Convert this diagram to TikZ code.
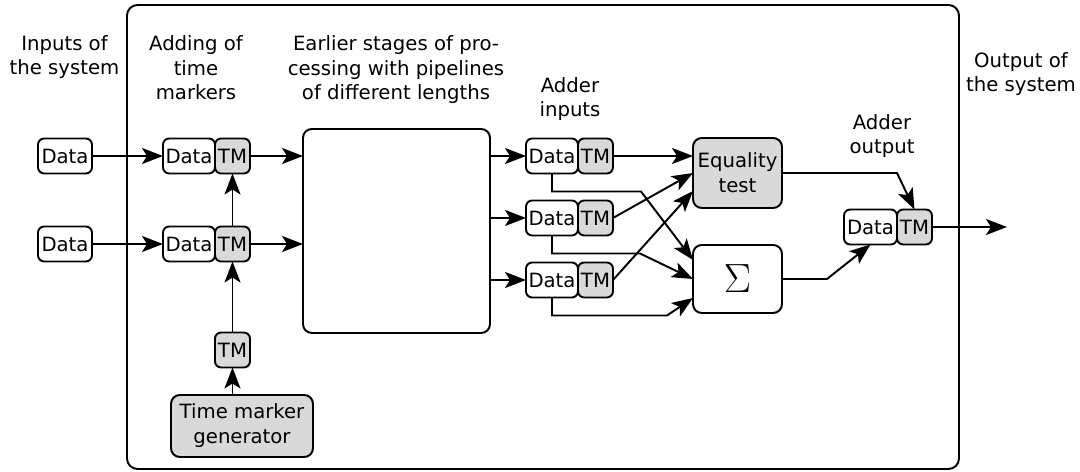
\documentclass[tikz,border=0pt]{standalone}
\usepackage[no-math]{fontspec}
\setmainfont{DejaVu Sans}
\usepackage{graphicx}
\usetikzlibrary{arrows.meta,calc}
\begin{document}
\begin{tikzpicture}[x=0.02cm,y=-0.02cm,
  every node/.style={font=\fontsize{11.2}{14.2}\selectfont},
  ln/.style={line width=1.1pt},
  box/.style={draw,line width=1.1pt,rounded corners=3.5pt,inner sep=0pt,outer sep=0pt,minimum height=0.70cm,align=center},
  dbox/.style={box,fill=white,minimum width=1.04cm},
  tbox/.style={box,fill=gray!30,minimum width=0.70cm},
  lbl/.style={align=center,anchor=base,inner sep=0pt},
  arr/.style={line width=1.1pt,-{Stealth[length=0.42cm,width=0.32cm,inset=0.1cm]}}]
\useasboundingbox (0,0) rectangle (1080,472);
% frame
\draw[ln,rounded corners=6pt] (127,5) rectangle (959,469);
% labels (anchored at the baseline of their last line)
\node[lbl] (l1) at (64.5,75) {Inputs of\\the system};
\node[lbl] (l2) at (196,100) {Adding of\\time\\markers};
\node[lbl] (l3) at (396,100) {Earlier stages of pro-\\cessing with pipelines\\of different lengths};
\node[lbl] (l4) at (570,117) {Adder\\inputs};
\node[lbl] (l5) at (882,154) {Adder\\output};
\node[lbl] (l6) at (1021,92) {Output of\\the system};
% inputs
\node[dbox,minimum width=1.08cm] (in1) at (65,156) {Data};
\node[dbox,minimum width=1.08cm] (in2) at (65,244) {Data};
% time marker pairs
\node[dbox] (d1) at (189,156) {Data};
\node[tbox,anchor=west] (t1) at (d1.east) {TM};
\node[dbox] (d2) at (189,244) {Data};
\node[tbox,anchor=west] (t2) at (d2.east) {TM};
\node[tbox] (tm0) at (t2 |- 0,350) {TM};
\node[box,fill=gray!30,minimum width=2.84cm,minimum height=1.24cm,rounded corners=5pt] (gen) at (242,426) {Time marker\\generator};
% processing
\node[box,fill=white,minimum width=3.74cm,minimum height=4.08cm,rounded corners=5pt] (big) at (396.5,231) {};
% adder inputs
\node[dbox] (a1) at (552,156) {Data};
\node[tbox,anchor=west] (at1) at (a1.east) {TM};
\node[dbox] (a2) at (552,218) {Data};
\node[tbox,anchor=west] (at2) at (a2.east) {TM};
\node[dbox] (a3) at (552,280) {Data};
\node[tbox,anchor=west] (at3) at (a3.east) {TM};
% equality and sum
\node[box,fill=gray!30,minimum width=1.78cm,minimum height=1.40cm,rounded corners=5pt] (eq) at (737.5,173) {Equality\\test};
\node[box,fill=white,minimum width=1.78cm,minimum height=1.36cm,rounded corners=5pt] (sig) at (737.5,279) {\fontsize{20.74}{24}\selectfont\scalebox{1.12}{$\Sigma$}};
% adder output
\node[dbox,minimum width=1.06cm] (o1) at (870.5,227) {Data};
\node[tbox,anchor=west] (ot) at (o1.east) {TM};
\coordinate (out) at (1007,227);
% connectors
\draw[arr] (in1) -- (d1);
\draw[arr] (in2) -- (d2);
\draw[arr] (t1.east) -- (t1.east -| big.west);
\draw[arr] (t2.east) -- (t2.east -| big.west);
\draw[arr] (t2) -- (t1);
\draw[arr] (tm0) -- (t2);
\draw[arr] (gen.north -| tm0) -- (tm0);
\draw[arr] (a1.west -| big.east) -- (a1);
\draw[arr] (a2.west -| big.east) -- (a2);
\draw[arr] (a3.west -| big.east) -- (a3);
\draw[arr] (at1.east) -- (at1.east -| eq.west);
\draw[arr] (at2.east) -- (eq.west);
\draw[arr] (at3.east) -- ($(eq.west)+(0,18)$);
\draw[arr] (a1.south) -- ++(0,18) -- ++(89,0) -- ($(sig.north west)+(0,15)$);
\draw[arr] (a2.south) -- ++(0,18) -- ++(88,0) -- (sig.west);
\draw[arr] (a3.south) -- ++(0,18) -- ++(115,0) -- ($(sig.south west)+(0,-15)$);
\draw[arr] (eq.east) -- ++(115,0) -- (ot.north);
\draw[arr] (sig.east) -- ++(45,0) -- (o1.south);
\draw[arr] (ot) -- (out);
\end{tikzpicture}
\end{document}
